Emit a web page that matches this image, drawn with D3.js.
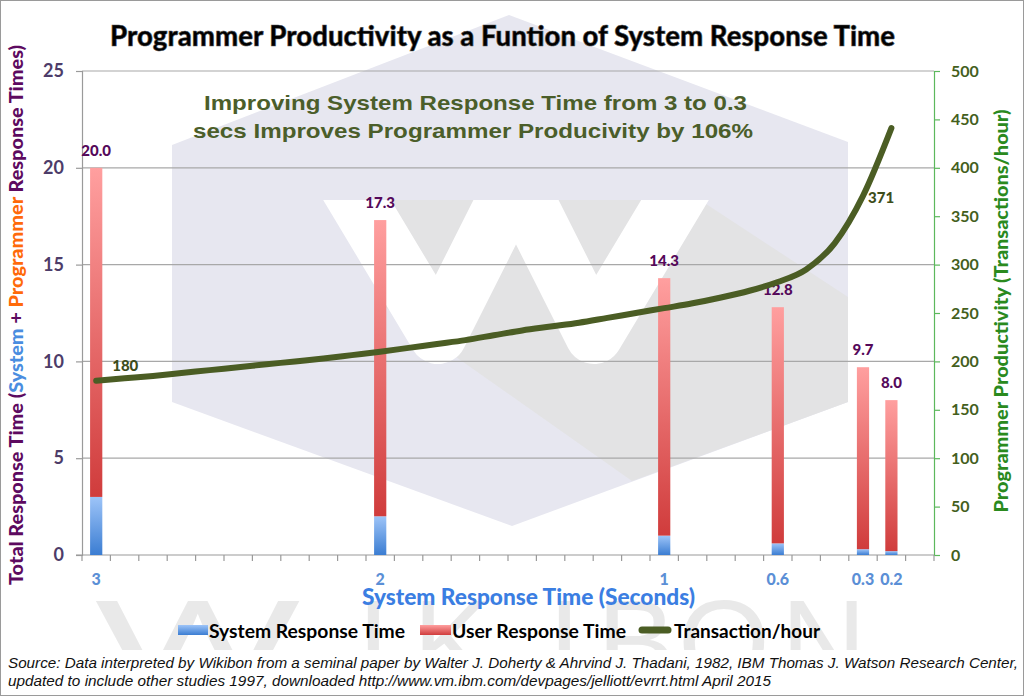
<!DOCTYPE html>
<html>
<head>
<meta charset="utf-8">
<script src="https://cdn.jsdelivr.net/npm/d3@7"></script>
<style>
  body { margin: 0; background: #fff; }
  svg { display: block; font-family: Lato, "Open Sans", sans-serif; }
</style>
</head>
<body>
<svg id="chart" width="1024" height="696"></svg>
<script>
// x slots: system response time from 3.0 down to 0.1 sec, one per 0.1
var slots = ["3.0","2.9","2.8","2.7","2.6","2.5","2.4","2.3","2.2","2.1",
             "2.0","1.9","1.8","1.7","1.6","1.5","1.4","1.3","1.2","1.1",
             "1.0","0.9","0.8","0.7","0.6","0.5","0.4","0.3","0.2","0.1"];

// bars
var barSlots   = ["3.0","2.0","1.0","0.6","0.3","0.2"];
var barLabels  = ["3","2","1","0.6","0.3","0.2"];
var systemTime = [3, 2, 1, 0.6, 0.3, 0.2];
var userTime   = [17, 15.3, 13.3, 12.2, 9.4, 7.8];

// transactions / hour at each slot (3.0 .. 0.2)
var transactions = [180, 182.5, 185, 188, 191, 194, 197, 200, 203, 206.5,
                    210, 214, 218, 222, 227, 232, 236, 240, 245, 250,
                    255, 260, 266, 273, 282, 295, 322, 371, 441];
var lineLabelSlots = ["3.0", "0.3"];

var leftTicks  = [0, 5, 10, 15, 20, 25];
var rightTicks = [0, 50, 100, 150, 200, 250, 300, 350, 400, 450, 500];

var svg = d3.select("#chart");
var X0 = 82, X1 = 934, Y0 = 555, Y1 = 71;

var x = d3.scaleBand().domain(slots).range([X0, X1])
    .paddingInner(0.57).paddingOuter(0.285);
var xEdge = d3.scaleLinear().domain([0, slots.length]).range([X0, X1]);
var yL = d3.scaleLinear().domain([0, 25]).range([Y0, Y1]);
var yR = d3.scaleLinear().domain([0, 500]).range([Y0, Y1]);
var cx = function(s) { return x(s) + x.bandwidth() / 2; };

// gradients
var defs = svg.append("defs");
function grad(id, top, bottom) {
  var g = defs.append("linearGradient").attr("id", id)
      .attr("x1", 0).attr("y1", 0).attr("x2", 0).attr("y2", 1);
  g.append("stop").attr("offset", "0%").attr("stop-color", top);
  g.append("stop").attr("offset", "100%").attr("stop-color", bottom);
}
grad("gBlue", "#9dc4f8", "#3b7dd2");
grad("gRed", "#ff9f9f", "#d03c3c");
defs.append("clipPath").attr("id", "wclip")
  .append("rect").attr("x", 250).attr("y", 200).attr("width", 520).attr("height", 200);
defs.append("clipPath").attr("id", "lclip")
  .append("rect").attr("x", 0).attr("y", 0).attr("width", 1024).attr("height", 650);

// watermark (Wikibon logo)
var wm = svg.append("g");
wm.append("polygon")
  .attr("points", [[509,15],[848,142],[848,402],[512,526],[172,402],[172,145]].join(" "))
  .attr("fill", "#e7e7f0");
wm.append("polygon")
  .attr("points", [[390,200],[700,200],[848,297],[848,402],[632,481],[378,302]].join(" "))
  .attr("fill", "#e3e3e4");
wm.append("path")
  .attr("d", "M339,170L438,335L521,170M511,170L594,335L693,170")
  .attr("fill", "none").attr("stroke", "#fff").attr("stroke-width", 58)
  .attr("stroke-linejoin", "round").attr("clip-path", "url(#wclip)");
var wmLetters = wm.append("g").attr("clip-path", "url(#lclip)");
[["W", 95, 205], ["I", 357], ["K", 413], ["I", 548], ["B", 597], ["O", 678], ["N", 781]]
  .forEach(function(l) {
    var t = wmLetters.append("text").attr("x", l[1]).attr("y", 683)
      .style("font-family", "Liberation Sans, Arial, sans-serif")
      .style("font-size", "118px")
      .attr("fill", "#e9e9e9").text(l[0]);
    if (l[2]) t.attr("textLength", l[2]).attr("lengthAdjust", "spacingAndGlyphs");
  });

// gridlines
svg.append("g").selectAll("line").data(leftTicks.slice(1)).enter().append("line")
  .attr("x1", X0).attr("x2", X1)
  .attr("y1", function(d) { return yL(d); }).attr("y2", function(d) { return yL(d); })
  .attr("stroke", "#a8a8a8").attr("stroke-width", 1.2);

// left axis
var axL = svg.append("g").attr("transform", "translate(" + X0 + ",0)")
  .call(d3.axisLeft(yL).tickValues(leftTicks).tickSize(6).tickPadding(12));
axL.selectAll("path, line").attr("stroke", "#9a9a9a").attr("stroke-width", 1.2);
axL.selectAll("text").attr("fill", "#4d3c69")
  .style("font-size", "18px").style("font-weight", "bold")
  .style("font-family", "Lato, sans-serif");

// right axis
var axR = svg.append("g").attr("transform", "translate(" + X1 + ",0)")
  .call(d3.axisRight(yR).tickValues(rightTicks).tickSize(6).tickPadding(11));
axR.selectAll("path, line").attr("stroke", "#5cb85c").attr("stroke-width", 1.2);
axR.selectAll("text").attr("fill", "#445f1d")
  .style("font-size", "16px").style("font-weight", "bold")
  .style("font-family", "Lato, sans-serif");

// bottom axis
var axB = svg.append("g");
axB.append("line").attr("x1", X0 - 6).attr("x2", X1).attr("y1", Y0).attr("y2", Y0)
  .attr("stroke", "#9a9a9a").attr("stroke-width", 1.2);
axB.selectAll("line.t").data(d3.range(slots.length + 1)).enter().append("line")
  .attr("class", "t")
  .attr("x1", function(i) { return xEdge(i); }).attr("x2", function(i) { return xEdge(i); })
  .attr("y1", Y0).attr("y2", Y0 + 6)
  .attr("stroke", "#9a9a9a").attr("stroke-width", 1.2);
axB.selectAll("text").data(barSlots).enter().append("text")
  .attr("x", cx).attr("y", 585).attr("text-anchor", "middle")
  .attr("fill", "#5b8fd6").style("font-size", "16px").style("font-weight", "900")
  .text(function(d, i) { return barLabels[i]; });

// bars
var bars = svg.append("g").selectAll("g").data(barSlots).enter().append("g");
bars.append("rect")
  .attr("x", function(d) { return x(d); }).attr("width", x.bandwidth())
  .attr("y", function(d, i) { return yL(systemTime[i]); })
  .attr("height", function(d, i) { return Y0 - yL(systemTime[i]); })
  .attr("fill", "url(#gBlue)");
bars.append("rect")
  .attr("x", function(d) { return x(d); }).attr("width", x.bandwidth())
  .attr("y", function(d, i) { return yL(systemTime[i] + userTime[i]); })
  .attr("height", function(d, i) { return yL(systemTime[i]) - yL(systemTime[i] + userTime[i]); })
  .attr("fill", "url(#gRed)");
bars.append("text")
  .attr("x", cx).attr("text-anchor", "middle")
  .attr("y", function(d, i) { return yL(systemTime[i] + userTime[i]) - 12; })
  .attr("fill", "#55095a").style("font-size", "15px").style("font-weight", "900")
  .text(function(d, i) { return (systemTime[i] + userTime[i]).toFixed(1); });

// transactions line
var line = d3.line()
  .x(function(d, i) { return cx(slots[i]); })
  .y(function(d) { return yR(d); })
  .curve(d3.curveMonotoneX);
svg.append("path").datum(transactions).attr("d", line)
  .attr("fill", "none").attr("stroke", "#4b5d24").attr("stroke-width", 6)
  .attr("stroke-linecap", "round").attr("stroke-linejoin", "round");
svg.append("g").selectAll("text").data(lineLabelSlots).enter().append("text")
  .attr("x", function(d, i) { return cx(d) + (i === 0 ? 16 : 5); })
  .attr("y", function(d, i) { return yR(transactions[slots.indexOf(d)]) + (i === 0 ? -10 : 7); })
  .attr("fill", "#3d4d1a").style("font-size", "15px").style("font-weight", "900")
  .text(function(d) { return Math.round(transactions[slots.indexOf(d)]); });

// annotation
var ann = svg.append("g").attr("fill", "#4b5e2a")
  .style("font-family", "Liberation Sans, Arial, sans-serif")
  .style("font-size", "21px").style("font-weight", "bold");
ann.append("text").attr("x", 204).attr("y", 110).attr("textLength", 543)
  .attr("lengthAdjust", "spacingAndGlyphs")
  .text("Improving System Response Time from 3 to 0.3");
ann.append("text").attr("x", 193).attr("y", 138).attr("textLength", 560)
  .attr("lengthAdjust", "spacingAndGlyphs")
  .text("secs Improves Programmer Producivity by 106%");

// title
svg.append("text").attr("x", 110).attr("y", 46).attr("textLength", 785)
  .attr("lengthAdjust", "spacingAndGlyphs")
  .style("font-size", "29px").style("font-weight", "900").attr("fill", "#000")
  .attr("stroke", "#555").attr("stroke-width", 0.6)
  .text("Programmer Productivity as a Funtion of System Response Time");

// left axis title
var lt = svg.append("text").attr("transform", "translate(23,315) rotate(-90)")
  .attr("text-anchor", "middle").attr("textLength", 540).attr("lengthAdjust", "spacingAndGlyphs")
  .style("font-size", "18px").style("font-weight", "900").attr("fill", "#5d0a60");
lt.append("tspan").text("Total Response Time (");
lt.append("tspan").attr("fill", "#4a8de0").text("System");
lt.append("tspan").text(" + ");
lt.append("tspan").attr("fill", "#ff6a0a").text("Programmer");
lt.append("tspan").text(" Response Times)");

// right axis title
svg.append("text").attr("transform", "translate(1008,311) rotate(-90)")
  .attr("text-anchor", "middle").attr("textLength", 403).attr("lengthAdjust", "spacingAndGlyphs")
  .style("font-size", "18px").style("font-weight", "900").attr("fill", "#2a8a1e")
  .text("Programmer Productivity (Transactions/hour)");

// x axis title
svg.append("text").attr("x", 362).attr("y", 605).attr("textLength", 333)
  .attr("lengthAdjust", "spacingAndGlyphs")
  .style("font-size", "22px").style("font-weight", "900").attr("fill", "#3b7ee2")
  .text("System Response Time (Seconds)");

// legend
var lg = svg.append("g").style("font-size", "19px").style("font-weight", "bold").attr("fill", "#000");
lg.append("rect").attr("x", 178).attr("y", 625).attr("width", 30).attr("height", 10).attr("fill", "url(#gBlue)");
lg.append("text").attr("x", 209).attr("y", 638).attr("textLength", 196)
  .attr("lengthAdjust", "spacingAndGlyphs").text("System Response Time");
lg.append("rect").attr("x", 420).attr("y", 625).attr("width", 31).attr("height", 10).attr("fill", "url(#gRed)");
lg.append("text").attr("x", 452).attr("y", 638).attr("textLength", 174)
  .attr("lengthAdjust", "spacingAndGlyphs").text("User Response Time");
lg.append("line").attr("x1", 642).attr("x2", 668).attr("y1", 630).attr("y2", 630)
  .attr("stroke", "#4b5d24").attr("stroke-width", 7).attr("stroke-linecap", "round");
lg.append("text").attr("x", 674).attr("y", 638).attr("textLength", 146)
  .attr("lengthAdjust", "spacingAndGlyphs").text("Transaction/hour");

// source
var src = svg.append("g").attr("fill", "#111").style("font-style", "italic")
  .style("font-family", "Liberation Sans Narrow, Liberation Sans, Arial, sans-serif")
  .style("font-size", "15px");
src.append("text").attr("x", 8).attr("y", 668).attr("textLength", 1010).attr("lengthAdjust", "spacingAndGlyphs")
  .text("Source: Data interpreted by Wikibon from a seminal paper by Walter J. Doherty & Ahrvind J. Thadani, 1982, IBM Thomas J. Watson Research Center,");
src.append("text").attr("x", 8).attr("y", 686).attr("textLength", 763).attr("lengthAdjust", "spacingAndGlyphs")
  .text("updated to include other studies 1997, downloaded http://www.vm.ibm.com/devpages/jelliott/evrrt.html April 2015");

// frame
svg.append("rect").attr("x", 0.5).attr("y", 0.5).attr("width", 1023).attr("height", 695)
  .attr("fill", "none").attr("stroke", "#9a9a9a");
</script>
</body>
</html>
